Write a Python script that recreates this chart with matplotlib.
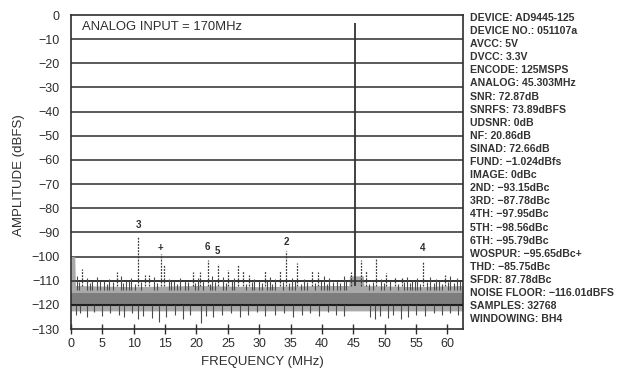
import matplotlib
matplotlib.use("Agg")
import matplotlib.pyplot as plt

plt.rcParams['font.family'] = ['Liberation Sans', 'DejaVu Sans']

# ---------------- data ----------------
x_ticks = [0, 5, 10, 15, 20, 25, 30, 35, 40, 45, 50, 55, 60]
y_ticks = [0, -10, -20, -30, -40, -50, -60, -70, -80, -90, -100, -110, -120, -130]

fund_freq = 45.3
fund_level = -3.5

# labelled harmonics / spurs
harm_labels = ["3", "+", "6", "5", "2", "4"]
harm_freq = [10.7, 14.3, 21.8, 23.4, 34.3, 56.1]
harm_level = [-92.0, -98.8, -101.3, -103.0, -97.5, -101.7]
harm_label_level = [-87.0, -96.5, -96.0, -97.5, -94.0, -96.5]

# other visible spurs
spur_freq = [1.8, 7.3, 11.8, 12.4, 14.8, 19.4, 20.6, 25.0, 26.7, 27.4, 28.4,
             30.9, 33.3, 36.0, 38.4, 39.4, 44.6, 46.2, 47.0, 48.7, 50.2, 51.6,
             52.7, 59.6]
spur_level = [-105.0, -106.5, -107.5, -107.5, -103.7, -106.5, -106.5, -105.5,
              -103.7, -106.0, -107.5, -106.0, -106.0, -102.5, -106.0, -106.5,
              -106.5, -101.3, -106.0, -100.5, -107.0, -108.5, -109.0, -107.5]

# small grass above the noise floor
grass_freq = [0.9, 2.6, 3.4, 4.2, 5.3, 6.1, 7.9, 8.8, 9.6, 13.2, 15.6, 16.4,
              17.3, 18.2, 20.3, 22.5, 24.3, 26.0, 29.2, 29.9, 31.8, 32.6, 35.2,
              37.1, 40.3, 41.2, 42.4, 43.5, 49.4, 53.5, 54.4, 55.2, 57.3, 58.2,
              60.5, 61.5, 1.3, 3.0, 4.7, 5.8, 6.7, 8.3, 9.2, 10.2, 11.1, 13.7,
              16.0, 16.9, 18.7, 19.8, 21.1, 22.1, 23.0, 24.7, 25.6, 27.9, 28.8,
              30.4, 31.3, 32.1, 33.8, 34.8, 35.7, 36.6, 37.6, 38.9, 39.9, 40.8,
              41.7, 42.9, 43.9, 47.5, 48.1, 49.9, 50.8, 52.1, 53.1, 54.0, 54.8,
              55.7, 56.7, 57.8, 58.7, 59.2, 60.1, 61.0, 62.0]
grass_level = [-108, -109, -110, -108.5, -110, -109.5, -108, -110, -109, -108.5,
               -109.5, -110, -109, -110, -109, -108, -108.5, -109, -109.5, -110,
               -108.5, -109.5, -109, -109.5, -108, -109, -110, -108, -109.5,
               -108.5, -110, -109, -108.5, -109.5, -108, -109, -110.5, -111,
               -110, -111.5, -110.5, -111, -110, -111.5, -110.5, -111, -110,
               -111.5, -110.5, -111, -110, -111.5, -110.5, -111, -110, -111.5,
               -110.5, -111, -110, -111.5, -110.5, -111, -110, -111.5, -110.5,
               -111, -110, -111.5, -110.5, -111, -110, -111.5, -110.5, -111,
               -110, -111.5, -110.5, -111, -110, -111.5, -110.5, -111, -110,
               -111.5, -110.5, -111, -110]

# downward noise spikes
dip_freq = [0.8, 1.5, 2.5, 3.6, 4.9, 6.2, 7.6, 8.5, 9.8, 10.7, 11.5, 12.9, 14.0,
            15.2, 16.6, 17.8, 19.0, 20.8, 21.5, 22.7, 24.0, 25.5, 26.9, 28.3,
            29.7, 31.0, 32.5, 33.9, 35.4, 36.8, 38.1, 39.5, 40.9, 42.2, 43.6,
            47.6, 48.5, 49.3, 50.5, 51.4, 52.6, 53.8, 55.0, 56.5, 57.8, 59.1,
            60.4, 61.7]
dip_level = [-124, -123.5, -125, -123, -124.5, -123.5, -124, -125, -123.5, -126,
             -124.5, -125.5, -127, -125, -124, -126, -124, -127.5, -124.5, -125,
             -124, -123.5, -125, -124, -123, -124.5, -124, -123.5, -125, -124,
             -123.5, -124.5, -123, -124, -124.5, -125, -126, -124.5, -125.5,
             -124, -126, -125, -124, -124.5, -123.5, -124, -123.5, -124]

# noise floor envelope
band_freq = [0, 0.6, 0.7, 10, 20, 30, 40, 44.3, 44.4, 46.6, 46.7, 55, 62.5]
band_hi = [-100, -100, -112, -112.5, -112, -112.5, -112, -112, -108, -108,
           -112, -112.5, -112]
band_lo = [-122.5] * len(band_freq)
core_hi = [-115] * len(band_freq)
core_lo = [-120] * len(band_freq)

info_lines = [
    "DEVICE: AD9445-125",
    "DEVICE NO.: 051107a",
    "AVCC: 5V",
    "DVCC: 3.3V",
    "ENCODE: 125MSPS",
    "ANALOG: 45.303MHz",
    "SNR: 72.87dB",
    "SNRFS: 73.89dBFS",
    "UDSNR: 0dB",
    "NF: 20.86dB",
    "SINAD: 72.66dB",
    "FUND: \u22121.024dBfs",
    "IMAGE: 0dBc",
    "2ND: \u221293.15dBc",
    "3RD: \u221287.78dBc",
    "4TH: \u221297.95dBc",
    "5TH: \u221298.56dBc",
    "6TH: \u221295.79dBc",
    "WOSPUR: \u221295.65dBc+",
    "THD: \u221285.75dBc",
    "SFDR: 87.78dBc",
    "NOISE FLOOR: \u2212116.01dBFS",
    "SAMPLES: 32768",
    "WINDOWING: BH4",
]

# ---------------- figure ----------------
W, H = 624, 368
fig = plt.figure(figsize=(W / 100, H / 100), dpi=100)
ax = fig.add_axes([71 / W, 1 - 329 / H, (463 - 71) / W, (329 - 15) / H])

ink = "#2e2e2e"

ax.set_xlim(0, 62.5)
ax.set_ylim(-130, 0)

# horizontal grid
for yv in y_ticks[1:-1]:
    ax.axhline(yv, color=ink, lw=1.1, zorder=1)

# noise floor
ax.fill_between(band_freq, band_lo, band_hi, color="#a9a9a9", lw=0, zorder=2)
ax.fill_between(band_freq, core_lo, core_hi, color="#7d7d7d", lw=0, zorder=2)
ax.axhline(-120, color="#1e1e1e", lw=1.5, zorder=3)
ax.axhline(-110, color=ink, lw=1.1, zorder=3)

ax.vlines(grass_freq, -114, grass_level, color="#4a4a4a", lw=0.8, zorder=3)
ax.vlines(dip_freq, -120, dip_level, color="#4a4a4a", lw=0.8, zorder=3)
ax.vlines(spur_freq, -112, spur_level, color="#3a3a3a", lw=0.9,
          linestyles=(0, (1.5, 1)), zorder=4)
ax.vlines(harm_freq, -112, harm_level, color="#3a3a3a", lw=0.9,
          linestyles=(0, (1.5, 1)), zorder=4)
ax.vlines([fund_freq], -112, [fund_level], color="#333333", lw=1.3, zorder=4)

for lab, f, lv in zip(harm_labels, harm_freq, harm_label_level):
    ax.text(f, lv, lab, ha="center", va="center", fontsize=7,
            fontweight="bold", color=ink, zorder=5)

fig.text(82 / W, 1 - 27 / H, "ANALOG INPUT = 170MHz", fontsize=9.4,
         color=ink, va="center", ha="left")

# spines
for s in ax.spines.values():
    s.set_color(ink)
    s.set_linewidth(1.2)

ax.set_xticks(x_ticks)
ax.set_xticklabels([str(v) for v in x_ticks])
ax.set_yticks(y_ticks)
ax.set_yticklabels(["0"] + ["\u2212%d" % (-v) for v in y_ticks[1:]])
ax.tick_params(axis="x", direction="inout", length=7, width=1, color=ink,
               labelsize=9, labelcolor=ink, pad=3)
ax.tick_params(axis="y", length=0, labelsize=9, labelcolor=ink, pad=8)

ax.set_xlabel("FREQUENCY (MHz)", fontsize=9.5, color=ink, labelpad=4)
ax.xaxis.set_label_coords((262 - 71) / (463 - 71), -0.085)
ax.set_ylabel("AMPLITUDE (dBFS)", fontsize=9.5, color=ink, labelpad=6)
ax.yaxis.set_label_coords(-(71 - 25) / (463 - 71), 0.49)

# info text on the right
y0 = 18
for i, line in enumerate(info_lines):
    fig.text(470 / W, 1 - (y0 + i * 13.1) / H, line, fontsize=7.6,
             fontweight="bold", color="#333333", ha="left", va="center")

fig.savefig("out.png", dpi=100, facecolor="white")
